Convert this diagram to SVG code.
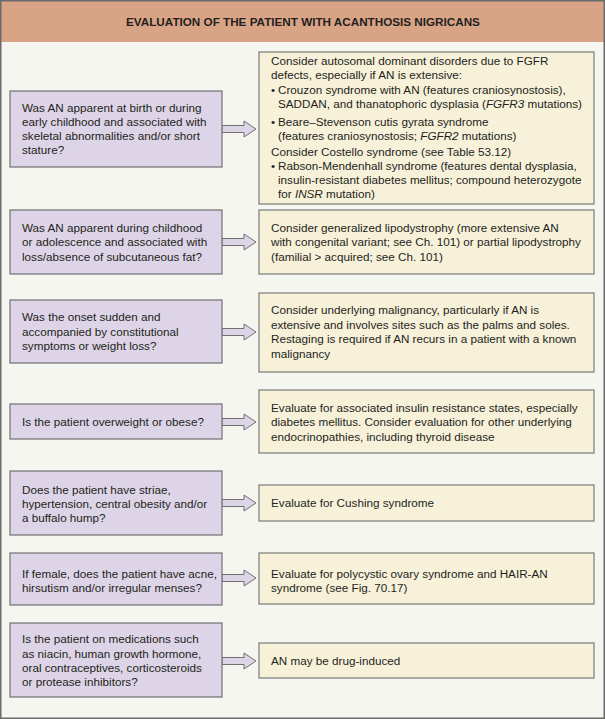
<svg xmlns="http://www.w3.org/2000/svg" width="605" height="719" viewBox="0 0 605 719">
<style>
.q{fill:#DDD5E7;stroke:#6F6F72;stroke-width:1.2}
.a{fill:#F7F1DA;stroke:#7A7A78;stroke-width:1.2}
.arr{fill:#DCD5E6;stroke:#6F6F72;stroke-width:1}
text{font-family:"Liberation Sans",Arial,sans-serif;font-size:11.7px;fill:#231F20}
.t{font-weight:bold;text-anchor:middle}
.i{font-style:italic}
</style>
<rect x="0" y="0" width="605" height="719" fill="#F6F6F0"/>
<rect x="0" y="0" width="605" height="42" fill="#D9A486"/>
<rect x="0.75" y="0.75" width="603.5" height="717.5" fill="none" stroke="#6A6A6A" stroke-width="1.5"/>
<text class="t" x="303" y="26">EVALUATION OF THE PATIENT WITH ACANTHOSIS NIGRICANS</text>

<g id="connectors">
<path class="arr" d="M222,125.5H244V121L256,129L244,137V132.5H222Z"/>
<path class="arr" d="M222,238.5H244V234L256,242L244,250V245.5H222Z"/>
<path class="arr" d="M222,328.5H244V324L256,332L244,340V335.5H222Z"/>
<path class="arr" d="M222,418.5H244V414L256,422L244,430V425.5H222Z"/>
<path class="arr" d="M222,499.5H244V495L256,503L244,511V506.5H222Z"/>
<path class="arr" d="M222,574.5H244V570L256,578L244,586V581.5H222Z"/>
<path class="arr" d="M222,657.5H244V653L256,661L244,669V664.5H222Z"/>
</g>

<g id="q1"><rect class="q" x="10" y="91" width="212" height="76"/>
<text x="22" y="112">Was AN apparent at birth or during</text>
<text x="22" y="126">early childhood and associated with</text>
<text x="22" y="140">skeletal abnormalities and/or short</text>
<text x="22" y="154">stature?</text></g>

<g id="a1"><rect class="a" x="259" y="52" width="335" height="152"/>
<text x="271" y="65">Consider autosomal dominant disorders due to FGFR</text>
<text x="271" y="79">defects, especially if AN is extensive:</text>
<text x="271" y="94">•</text><text x="278" y="94">Crouzon syndrome with AN (features craniosynostosis),</text>
<text x="278" y="108">SADDAN, and thanatophoric dysplasia (<tspan class="i">FGFR3</tspan> mutations)</text>
<text x="271" y="126">•</text><text x="278" y="126">Beare–Stevenson cutis gyrata syndrome</text>
<text x="278" y="140">(features craniosynostosis; <tspan class="i">FGFR2</tspan> mutations)</text>
<text x="271" y="156">Consider Costello syndrome (see Table 53.12)</text>
<text x="271" y="170">•</text><text x="278" y="170">Rabson-Mendenhall syndrome (features dental dysplasia,</text>
<text x="278" y="184">insulin-resistant diabetes mellitus; compound heterozygote</text>
<text x="278" y="198">for <tspan class="i">INSR</tspan> mutation)</text></g>

<g id="q2"><rect class="q" x="10" y="210" width="212" height="64"/>
<text x="22" y="232">Was AN apparent during childhood</text>
<text x="22" y="246">or adolescence and associated with</text>
<text x="22" y="260.5">loss/absence of subcutaneous fat?</text></g>

<g id="a2"><rect class="a" x="259" y="210" width="335" height="64"/>
<text x="271" y="232">Consider generalized lipodystrophy (more extensive AN</text>
<text x="271" y="246">with congenital variant; see Ch. 101) or partial lipodystrophy</text>
<text x="271" y="260.5">(familial &gt; acquired; see Ch. 101)</text></g>

<g id="q3"><rect class="q" x="10" y="300" width="212" height="63"/>
<text x="22" y="321">Was the onset sudden and</text>
<text x="22" y="335.5">accompanied by constitutional</text>
<text x="22" y="350">symptoms or weight loss?</text></g>

<g id="a3"><rect class="a" x="259" y="293" width="335" height="79"/>
<text x="271" y="314">Consider underlying malignancy, particularly if AN is</text>
<text x="271" y="328.5">extensive and involves sites such as the palms and soles.</text>
<text x="271" y="343">Restaging is required if AN recurs in a patient with a known</text>
<text x="271" y="357.5">malignancy</text></g>

<g id="q4"><rect class="q" x="10" y="404" width="212" height="35"/>
<text x="22" y="426">Is the patient overweight or obese?</text></g>

<g id="a4"><rect class="a" x="259" y="390" width="335" height="63"/>
<text x="271" y="412">Evaluate for associated insulin resistance states, especially</text>
<text x="271" y="426">diabetes mellitus. Consider evaluation for other underlying</text>
<text x="271" y="440.5">endocrinopathies, including thyroid disease</text></g>

<g id="q5"><rect class="q" x="10" y="471" width="212" height="64"/>
<text x="22" y="494">Does the patient have striae,</text>
<text x="22" y="508">hypertension, central obesity and/or</text>
<text x="22" y="522">a buffalo hump?</text></g>

<g id="a5"><rect class="a" x="259" y="485" width="335" height="36"/>
<text x="271" y="507">Evaluate for Cushing syndrome</text></g>

<g id="q6"><rect class="q" x="10" y="553" width="212" height="52"/>
<text x="22" y="578">If female, does the patient have acne,</text>
<text x="22" y="592">hirsutism and/or irregular menses?</text></g>

<g id="a6"><rect class="a" x="259" y="553" width="335" height="51"/>
<text x="271" y="578">Evaluate for polycystic ovary syndrome and HAIR-AN</text>
<text x="271" y="592">syndrome (see Fig. 70.17)</text></g>

<g id="q7"><rect class="q" x="10" y="623" width="212" height="74"/>
<text x="22" y="643">Is the patient on medications such</text>
<text x="22" y="657.5">as niacin, human growth hormone,</text>
<text x="22" y="672">oral contraceptives, corticosteroids</text>
<text x="22" y="686">or protease inhibitors?</text></g>

<g id="a7"><rect class="a" x="259" y="643" width="335" height="35"/>
<text x="271" y="665">AN may be drug-induced</text></g>
</svg>
